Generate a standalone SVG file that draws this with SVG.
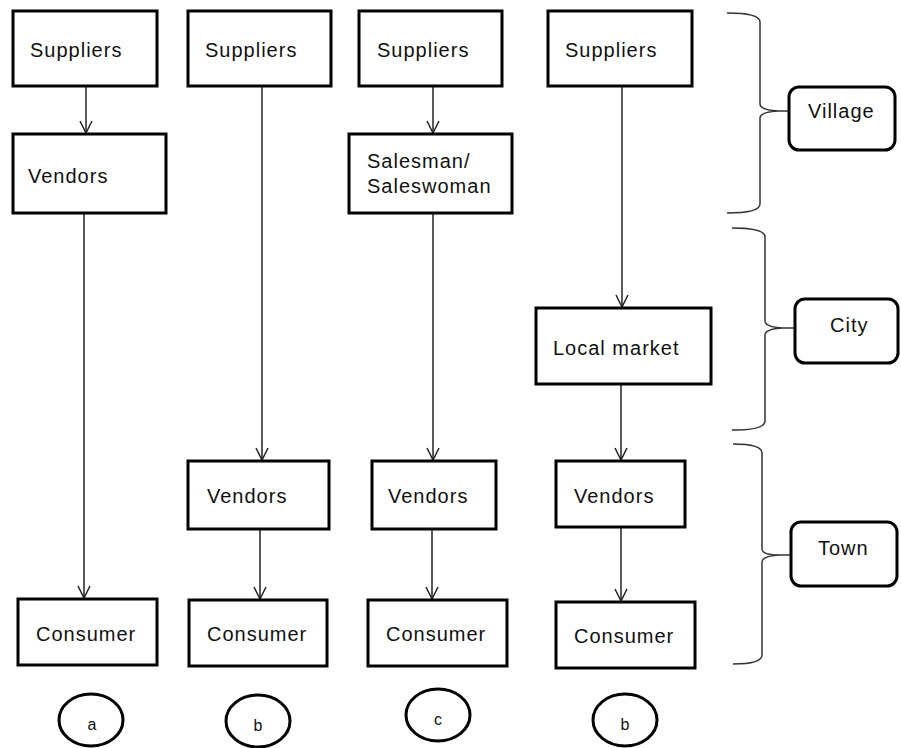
<svg xmlns="http://www.w3.org/2000/svg" width="901" height="748" viewBox="0 0 901 748">
<style>
.box{fill:#fff;stroke:#000;stroke-width:3}
.lbl{fill:#fff;stroke:#000;stroke-width:3}
.t{font-family:"Liberation Sans",Arial,sans-serif;font-size:20px;letter-spacing:1px;fill:#111}
.s{font-family:"Liberation Sans",Arial,sans-serif;font-size:16px;fill:#111;text-anchor:middle}
.c{fill:none;stroke:#222;stroke-width:1.5}
.br{fill:none;stroke:#333;stroke-width:1.5}
.ov{fill:#fff;stroke:#000;stroke-width:3}
</style>
<defs>
<marker id="ah" markerWidth="14" markerHeight="14" viewBox="0 0 14 14" refX="13" refY="7" orient="auto" markerUnits="userSpaceOnUse">
<path d="M1,1 L13,7 L1,13" fill="none" stroke="#222" stroke-width="1.5"/>
</marker>
</defs>
<rect width="901" height="748" fill="#fff"/>
<g id="connectors">
<path class="c" d="M86,87 V133" marker-end="url(#ah)"/>
<path class="c" d="M84,214 V598" marker-end="url(#ah)"/>
<path class="c" d="M262,87 V460" marker-end="url(#ah)"/>
<path class="c" d="M260,530 V599" marker-end="url(#ah)"/>
<path class="c" d="M433,87 V133" marker-end="url(#ah)"/>
<path class="c" d="M433,214 V460" marker-end="url(#ah)"/>
<path class="c" d="M432,530 V599" marker-end="url(#ah)"/>
<path class="c" d="M622,87 V307" marker-end="url(#ah)"/>
<path class="c" d="M621,385 V460" marker-end="url(#ah)"/>
<path class="c" d="M621,528 V601" marker-end="url(#ah)"/>
</g>
<g id="braces">
<path class="br" d="M727,13 Q760,13 760,22 V104 Q760,110 778,111 H789 M778,111 Q760,112 760,118 V204 Q760,213 727,213"/>
<path class="br" d="M732,228 Q765,228 765,237 V321 Q765,327 783,328 H795 M783,328 Q765,329 765,335 V421 Q765,430 732,430"/>
<path class="br" d="M733,444 Q762,444 762,453 V549 Q762,555 780,555 H791 M780,555 Q762,556 762,562 V655 Q762,664 733,664"/>
</g>
<g id="a-suppliers"><rect class="box" x="13" y="11" width="144" height="75"/><text class="t" x="30" y="57">Suppliers</text></g>
<g id="a-vendors"><rect class="box" x="13" y="134" width="153" height="79"/><text class="t" x="28" y="183">Vendors</text></g>
<g id="a-consumer"><rect class="box" x="18" y="599" width="139" height="66"/><text class="t" x="36" y="641">Consumer</text></g>
<g id="b-suppliers"><rect class="box" x="188" y="11" width="143" height="75"/><text class="t" x="205" y="57">Suppliers</text></g>
<g id="b-vendors"><rect class="box" x="188" y="461" width="141" height="68"/><text class="t" x="207" y="503">Vendors</text></g>
<g id="b-consumer"><rect class="box" x="189" y="600" width="138" height="66"/><text class="t" x="207" y="641">Consumer</text></g>
<g id="c-suppliers"><rect class="box" x="359" y="11" width="143" height="75"/><text class="t" x="377" y="57">Suppliers</text></g>
<g id="c-salesman"><rect class="box" x="349" y="134" width="163" height="79"/><text class="t" x="367" y="168">Salesman/</text><text class="t" x="367" y="193">Saleswoman</text></g>
<g id="c-vendors"><rect class="box" x="372" y="461" width="124" height="68"/><text class="t" x="388" y="503">Vendors</text></g>
<g id="c-consumer"><rect class="box" x="368" y="600" width="139" height="66"/><text class="t" x="386" y="641">Consumer</text></g>
<g id="d-suppliers"><rect class="box" x="548" y="11" width="144" height="75"/><text class="t" x="565" y="57">Suppliers</text></g>
<g id="d-localmarket"><rect class="box" x="536" y="308" width="175" height="76"/><text class="t" x="553" y="355">Local market</text></g>
<g id="d-vendors"><rect class="box" x="556" y="461" width="129" height="66"/><text class="t" x="574" y="503">Vendors</text></g>
<g id="d-consumer"><rect class="box" x="556" y="602" width="139" height="66"/><text class="t" x="574" y="643">Consumer</text></g>
<g id="village"><rect class="lbl" x="789" y="87" width="106" height="63" rx="10"/><text class="t" x="808" y="118">Village</text></g>
<g id="city"><rect class="lbl" x="795" y="299" width="103" height="64" rx="10"/><text class="t" x="830" y="332">City</text></g>
<g id="town"><rect class="lbl" x="791" y="522" width="106" height="64" rx="10"/><text class="t" x="818" y="555">Town</text></g>
<g id="label-a"><ellipse class="ov" cx="91" cy="720" rx="32" ry="26"/><text class="s" x="92" y="730">a</text></g>
<g id="label-b"><ellipse class="ov" cx="258" cy="721" rx="32" ry="26"/><text class="s" x="258" y="731">b</text></g>
<g id="label-c"><ellipse class="ov" cx="438" cy="715" rx="32" ry="26"/><text class="s" x="438" y="725">c</text></g>
<g id="label-d"><ellipse class="ov" cx="625" cy="720" rx="32" ry="26"/><text class="s" x="625" y="730">b</text></g>
</svg>
